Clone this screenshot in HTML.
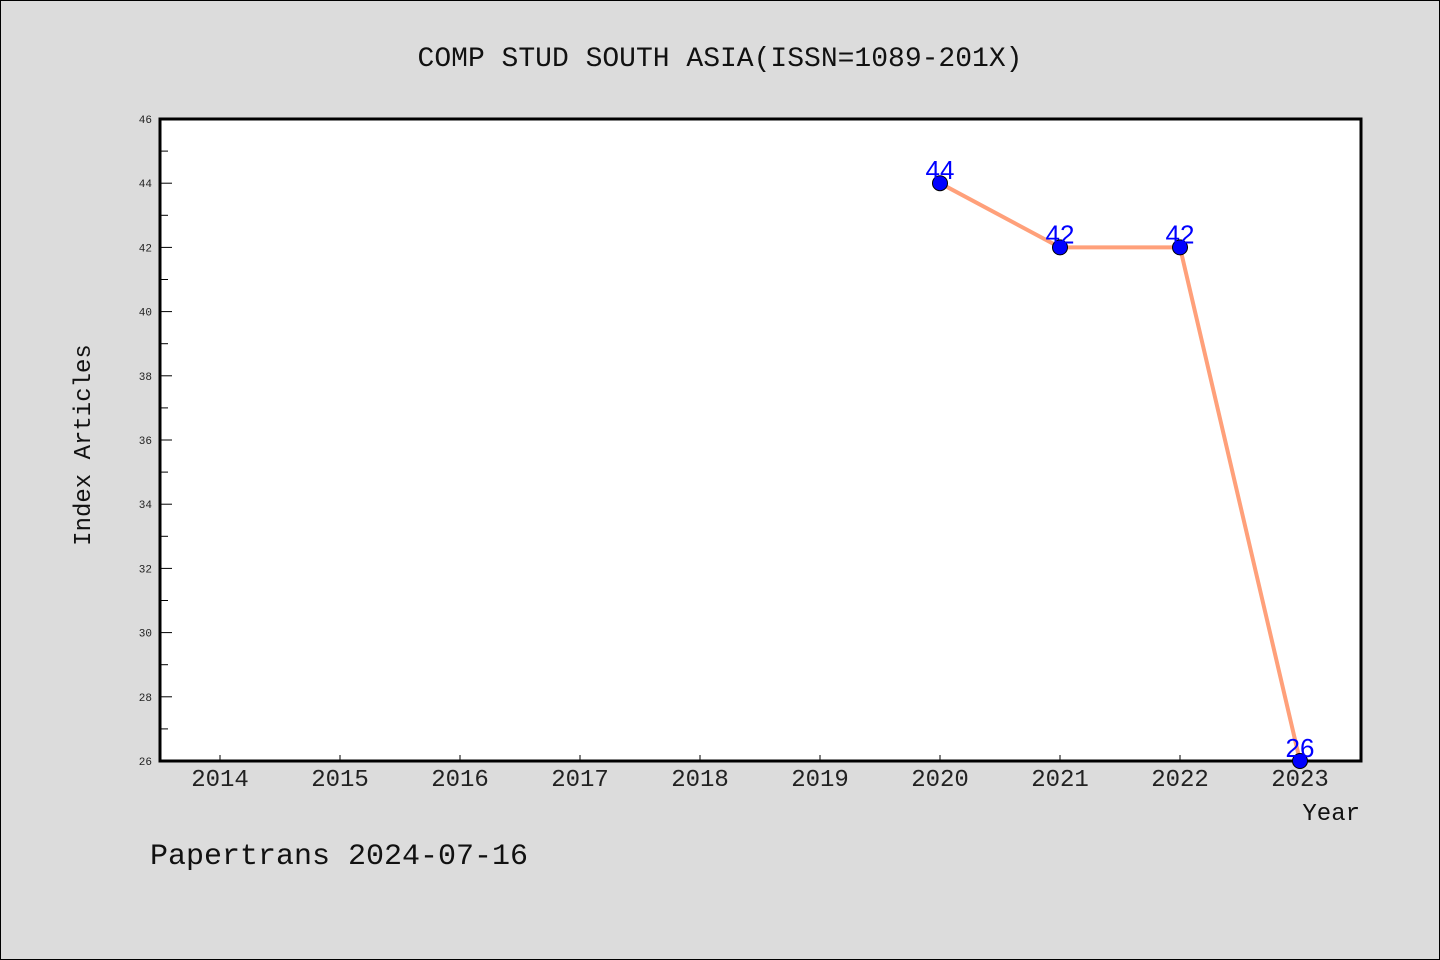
<!DOCTYPE html>
<html><head><meta charset="utf-8"><style>
html,body{margin:0;padding:0;background:#dcdcdc;}
svg{display:block;font-family:"Liberation Mono","DejaVu Sans Mono",monospace;}
</style></head><body>
<svg id="chart" width="1440" height="960" xmlns="http://www.w3.org/2000/svg">
<rect x="0.5" y="0.5" width="1439" height="959" fill="#dcdcdc" stroke="#000" stroke-width="1"/>
<text x="720" y="66" font-size="28" text-anchor="middle" fill="#111">COMP STUD SOUTH ASIA(ISSN=1089-201X)</text>
<rect x="160" y="119" width="1201" height="642" fill="#fff" stroke="#000" stroke-width="3"/>
<g id="yaxis"></g>
<g id="xaxis"></g>
<g id="series"></g>
<text transform="translate(90,445) rotate(-90)" font-size="24" text-anchor="middle" fill="#111">Index Articles</text>
<text x="1360" y="820" font-size="24" text-anchor="end" fill="#111">Year</text>
<text x="150" y="864" font-size="30" fill="#111">Papertrans 2024-07-16</text>
</svg>
<script>
const years = [2020, 2021, 2022, 2023];
const values = [44, 42, 42, 26];
const xTicks = [2014, 2015, 2016, 2017, 2018, 2019, 2020, 2021, 2022, 2023];
const yTicks = [26, 28, 30, 32, 34, 36, 38, 40, 42, 44, 46];
const NS = "http://www.w3.org/2000/svg";
const L = 160, R = 1360, T = 119, B = 761;
const xMin = 2013.5, xMax = 2023.5, yMin = 26, yMax = 46;
const xs = v => L + (v - xMin) / (xMax - xMin) * (R - L);
const ys = v => B - (v - yMin) / (yMax - yMin) * (B - T);
function mk(tag, attrs, parent) {
  const e = document.createElementNS(NS, tag);
  for (const k in attrs) e.setAttribute(k, attrs[k]);
  parent.appendChild(e);
  return e;
}
const ya = document.getElementById('yaxis');
yTicks.forEach((t, i) => {
  const y = ys(t);
  const tk = mk('line', {x1: L, x2: L + 12, y1: y, y2: y, stroke: '#000', 'stroke-width': 1}, ya);
  
  
  const lb = mk('text', {x: L - 8, y: y + 4, 'font-size': 11, 'text-anchor': 'end', fill: '#222'}, ya);
  lb.textContent = t;
  
  
  if (i < yTicks.length - 1) {
    const ym = ys(t + 1);
    const mt = mk('line', {x1: L, x2: L + 8, y1: ym, y2: ym, stroke: '#000', 'stroke-width': 1}, ya);
    
    
  }
});
const xa = document.getElementById('xaxis');
xTicks.forEach(t => {
  const x = xs(t);
  const tk = mk('line', {x1: x, x2: x, y1: B, y2: B - 6, stroke: '#000', 'stroke-width': 1}, xa);
  
  
  const lb = mk('text', {x: x, y: B + 25, 'font-size': 24, 'text-anchor': 'middle', fill: '#222'}, xa);
  lb.textContent = t;
  
  
});
const sg = document.getElementById('series');
const pts = years.map((y, i) => xs(y) + ',' + ys(values[i])).join(' ');
const line = mk('polyline', {points: pts, fill: 'none', stroke: '#ffa07a', 'stroke-width': 4}, sg);


years.forEach((y, i) => {
  const c = mk('circle', {cx: xs(y), cy: ys(values[i]), r: 7.5, fill: '#0000ff', stroke: '#000', 'stroke-width': 1}, sg);
  
  
  const lb = mk('text', {x: xs(y), y: ys(values[i]) - 4, 'font-size': 26, 'text-anchor': 'middle', fill: '#0000ff', 'font-family': '"Liberation Sans", sans-serif'}, sg);
  lb.textContent = values[i];
  
  
});
</script>
</body></html>
